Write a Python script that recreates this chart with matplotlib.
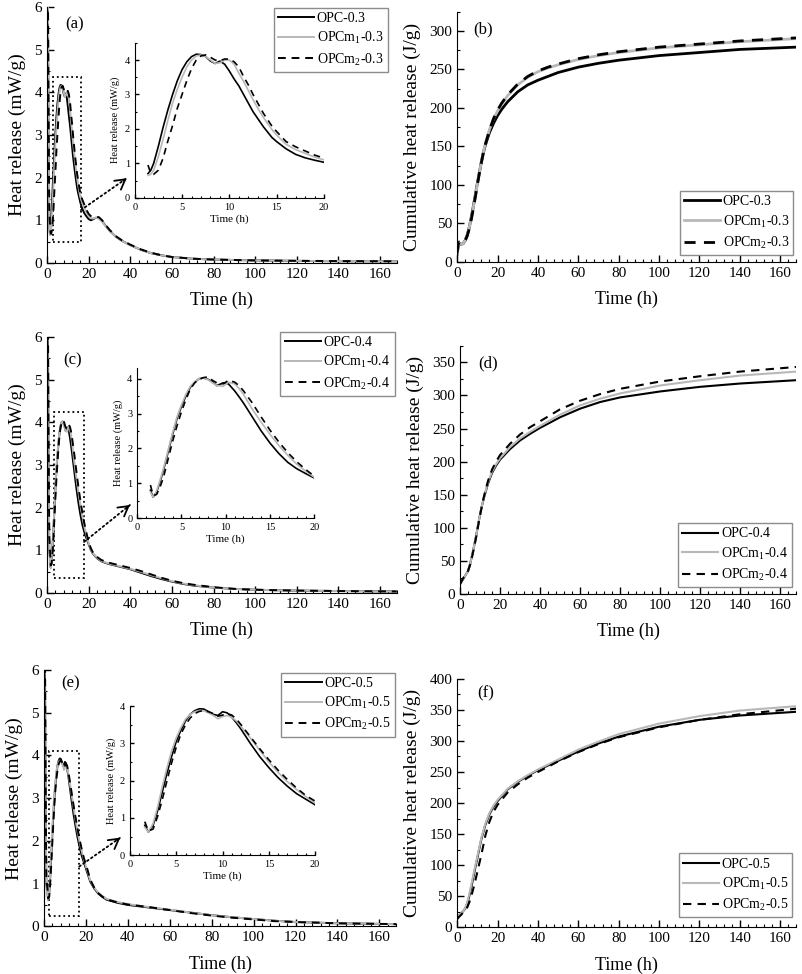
import matplotlib
matplotlib.use('Agg')
import matplotlib.pyplot as plt
from matplotlib.patches import Rectangle
from matplotlib.ticker import MultipleLocator, AutoMinorLocator

plt.rcParams['font.family'] = ['Liberation Serif', 'DejaVu Serif']
plt.rcParams['mathtext.fontset'] = 'custom'
plt.rcParams['mathtext.rm'] = 'Liberation Serif'
plt.rcParams['xtick.direction'] = 'in'
plt.rcParams['ytick.direction'] = 'in'

GRAY = '#b8b8b8'

# ---- heat flow, w/c 0.3 -------------------------------------------------
spike_t = [0.0, 0.3, 0.7, 1.1]
a_spike_opc = [0.3, 8.0, 3.0, 0.9]
a_spike_m1 = [0.2, 8.0, 3.5, 0.9]
a_spike_m2 = [0.0, 8.0, 4.0, 1.2]

a_t = [1.4, 1.7, 2.0, 2.5, 3.0, 3.5, 4.0, 4.5, 5.0, 5.5, 6.0, 6.5, 7.0, 7.5, 8.0, 8.5, 9.0,
       9.5, 10.0, 10.5, 11.0, 11.5, 12.0, 12.5, 13.0, 13.6, 14.5, 15.0, 16.0, 17.0, 18.0, 19.0, 20.0]
a_opc = [0.7, 0.8, 1.0, 1.5, 2.05, 2.55, 3.0, 3.4, 3.72, 3.95, 4.1, 4.17, 4.16, 4.1, 3.97, 3.9, 3.97,
         3.88, 3.68, 3.45, 3.25, 3.0, 2.75, 2.5, 2.3, 2.06, 1.75, 1.63, 1.42, 1.26, 1.16, 1.09, 1.03]
a_m1 = [0.65, 0.68, 0.8, 1.2, 1.7, 2.25, 2.75, 3.15, 3.5, 3.8, 4.0, 4.12, 4.15, 4.1, 4.0, 3.9, 3.92,
        4.0, 4.0, 3.88, 3.62, 3.38, 3.12, 2.85, 2.6, 2.33, 1.98, 1.82, 1.55, 1.4, 1.29, 1.18, 1.1]
a_m2 = [0.95, 0.7, 0.68, 0.8, 1.15, 1.65, 2.1, 2.6, 3.0, 3.4, 3.75, 4.0, 4.12, 4.15, 4.08, 4.0, 3.98,
        4.03, 4.03, 3.95, 3.8, 3.52, 3.28, 3.0, 2.75, 2.45, 2.08, 1.92, 1.63, 1.48, 1.36, 1.24, 1.15]

a_tail_t = [21, 22, 23.5, 25, 26.5, 28, 30, 33, 36, 40, 45, 50, 55, 60, 70, 80, 100, 120, 140, 168]
a_tail_opc = [1.0, 1.02, 1.06, 1.05, 0.98, 0.88, 0.76, 0.62, 0.52, 0.42, 0.31, 0.23, 0.18, 0.14, 0.1, 0.08, 0.06, 0.05, 0.04, 0.04]
a_tail_m1 = [1.05, 1.04, 1.06, 1.04, 0.97, 0.87, 0.76, 0.62, 0.52, 0.42, 0.31, 0.23, 0.18, 0.14, 0.1, 0.08, 0.06, 0.05, 0.045, 0.04]
a_tail_m2 = [1.1, 1.08, 1.09, 1.07, 1.0, 0.9, 0.78, 0.63, 0.53, 0.43, 0.32, 0.24, 0.18, 0.14, 0.1, 0.08, 0.06, 0.05, 0.045, 0.04]

# ---- heat flow, w/c 0.4 -------------------------------------------------
c_spike_opc = [0.3, 8.0, 3.0, 1.0]
c_spike_m1 = [0.2, 8.0, 3.5, 1.0]
c_spike_m2 = [0.0, 8.0, 4.0, 1.3]

c_t = [1.5, 1.8, 2.2, 2.6, 3.0, 3.5, 4.0, 4.5, 5.0, 5.5, 6.0, 6.5, 7.0, 7.5, 8.0, 8.5, 9.0,
       9.7, 10.3, 11.0, 11.5, 12.0, 13.0, 14.0, 15.0, 16.0, 17.0, 18.0, 19.0, 20.0]
c_opc = [0.8, 0.6, 0.75, 1.05, 1.4, 1.9, 2.4, 2.85, 3.2, 3.5, 3.75, 3.9, 4.0, 4.02, 3.98, 3.9, 3.8,
         3.88, 3.85, 3.65, 3.48, 3.3, 2.9, 2.5, 2.15, 1.85, 1.6, 1.42, 1.28, 1.15]
c_m1 = [0.75, 0.6, 0.78, 1.1, 1.45, 1.95, 2.45, 2.9, 3.25, 3.55, 3.78, 3.92, 4.0, 4.02, 3.97, 3.88, 3.8,
        3.78, 3.9, 3.85, 3.72, 3.55, 3.12, 2.75, 2.4, 2.08, 1.8, 1.55, 1.35, 1.17]
c_m2 = [0.95, 0.65, 0.68, 0.9, 1.2, 1.7, 2.2, 2.65, 3.05, 3.4, 3.7, 3.88, 3.98, 4.03, 4.05, 3.95, 3.88,
        3.85, 3.95, 3.9, 3.8, 3.65, 3.3, 2.9, 2.52, 2.18, 1.88, 1.62, 1.4, 1.2]

c_tail_t = [21, 22, 24, 26, 28, 30, 35, 40, 45, 50, 55, 60, 65, 70, 80, 90, 100, 120, 140, 168]
c_tail_opc = [1.02, 0.93, 0.82, 0.75, 0.71, 0.68, 0.62, 0.56, 0.48, 0.4, 0.33, 0.27, 0.22, 0.18, 0.13, 0.1, 0.08, 0.06, 0.05, 0.04]
c_tail_m1 = [1.03, 0.94, 0.83, 0.76, 0.72, 0.69, 0.63, 0.57, 0.5, 0.42, 0.35, 0.28, 0.23, 0.19, 0.13, 0.1, 0.08, 0.06, 0.05, 0.04]
c_tail_m2 = [1.06, 0.96, 0.85, 0.78, 0.74, 0.71, 0.65, 0.59, 0.52, 0.44, 0.36, 0.29, 0.24, 0.2, 0.14, 0.1, 0.08, 0.06, 0.05, 0.04]

# ---- heat flow, w/c 0.5 -------------------------------------------------
e_spike_opc = [0.3, 8.0, 3.0, 1.0]
e_spike_m1 = [0.2, 8.0, 3.5, 0.9]
e_spike_m2 = [0.0, 8.0, 4.0, 1.1]

e_t = [1.6, 2.0, 2.5, 3.0, 3.5, 4.0, 4.5, 5.0, 5.5, 6.0, 6.5, 7.0, 7.5, 8.0, 8.5, 9.0, 9.5,
       10.0, 10.5, 11.0, 11.5, 12.0, 13.0, 14.0, 15.0, 16.0, 17.0, 18.0, 19.0, 20.0]
e_opc = [0.8, 0.62, 0.8, 1.2, 1.7, 2.2, 2.65, 3.05, 3.35, 3.6, 3.78, 3.88, 3.93, 3.92, 3.85, 3.78, 3.75,
         3.85, 3.82, 3.7, 3.55, 3.38, 3.0, 2.65, 2.35, 2.08, 1.85, 1.65, 1.5, 1.35]
e_m1 = [0.75, 0.62, 0.85, 1.3, 1.85, 2.35, 2.8, 3.15, 3.42, 3.65, 3.78, 3.85, 3.88, 3.87, 3.82, 3.75, 3.66,
        3.72, 3.75, 3.7, 3.6, 3.45, 3.15, 2.82, 2.5, 2.22, 1.97, 1.76, 1.57, 1.4]
e_m2 = [0.9, 0.65, 0.7, 1.05, 1.5, 2.0, 2.48, 2.9, 3.25, 3.5, 3.68, 3.8, 3.86, 3.88, 3.85, 3.8, 3.73,
        3.76, 3.8, 3.76, 3.65, 3.5, 3.18, 2.86, 2.56, 2.28, 2.03, 1.8, 1.6, 1.45]

e_tail_t = [21, 22, 24, 26, 28, 30, 35, 40, 50, 60, 70, 80, 90, 100, 110, 120, 140, 168]
e_tail_opc = [1.2, 1.05, 0.88, 0.76, 0.68, 0.62, 0.55, 0.5, 0.44, 0.38, 0.32, 0.26, 0.21, 0.17, 0.13, 0.1, 0.07, 0.05]
e_tail_m1 = [1.25, 1.08, 0.9, 0.78, 0.7, 0.64, 0.57, 0.52, 0.45, 0.39, 0.32, 0.26, 0.21, 0.17, 0.13, 0.1, 0.07, 0.05]
e_tail_m2 = [1.28, 1.1, 0.9, 0.77, 0.69, 0.63, 0.56, 0.51, 0.45, 0.38, 0.31, 0.25, 0.2, 0.16, 0.12, 0.1, 0.07, 0.05]

# ---- cumulative heat ----------------------------------------------------
b_t = [0, 0.5, 1, 2, 3, 4, 5, 6, 7, 8, 9, 10, 11, 12, 13, 14, 16, 18, 20, 22, 25, 30, 35, 40,
       45, 50, 60, 70, 80, 100, 120, 140, 168]
b_opc = [10, 20, 24, 23, 24, 28, 35, 45, 58, 72, 87, 102, 116, 130, 142, 152, 168, 180, 190, 198,
         208, 221, 230, 236, 241, 246, 253, 258, 262, 268, 272, 276, 279]
b_m1 = [10, 20, 24, 23, 24, 28, 35, 45, 57, 71, 86, 101, 116, 130, 143, 154, 172, 186, 196, 205,
        216, 230, 240, 247, 252, 256, 263, 268, 272, 278, 282, 286, 290]
b_m2 = [12, 22, 26, 24, 25, 28, 34, 43, 55, 69, 84, 100, 115, 129, 142, 153, 171, 186, 197, 206,
        217, 231, 241, 248, 253, 257, 264, 269, 273, 279, 283, 287, 291]

d_t = [0, 1, 2, 3, 4, 5, 6, 7, 8, 9, 10, 11, 12, 14, 16, 18, 20, 25, 30, 35, 40, 50, 60, 70, 80,
       100, 120, 140, 168]
d_opc = [15, 20, 25, 30, 35, 45, 58, 72, 87, 104, 120, 134, 146, 167, 183, 194, 203, 219, 232, 242,
         251, 267, 280, 290, 297, 306, 313, 318, 323]
d_m1 = [15, 20, 25, 30, 35, 45, 58, 72, 87, 104, 120, 134, 147, 169, 185, 196, 205, 222, 235, 245,
        254, 271, 285, 295, 303, 315, 323, 330, 336]
d_m2 = [15, 21, 26, 30, 35, 44, 56, 70, 85, 102, 119, 134, 148, 171, 188, 200, 210, 227, 241, 252,
        261, 279, 292, 302, 310, 321, 329, 336, 343]

f_t = [0, 1, 2, 3, 4, 5, 6, 7, 8, 9, 10, 11, 12, 14, 16, 18, 20, 25, 30, 35, 40, 50, 60, 70, 80,
       100, 120, 140, 168]
f_opc = [15, 19, 22, 26, 30, 38, 50, 64, 80, 96, 111, 127, 142, 165, 182, 194, 203, 222, 234, 244,
         253, 268, 283, 296, 307, 323, 334, 341, 347]
f_m1 = [15, 19, 22, 26, 31, 40, 53, 68, 84, 99, 114, 129, 144, 167, 184, 196, 205, 223, 235, 245,
        254, 270, 286, 299, 311, 328, 340, 349, 356]
f_m2 = [13, 17, 20, 24, 27, 32, 40, 50, 62, 75, 89, 103, 117, 148, 170, 186, 197, 217, 230, 241,
        250, 267, 282, 295, 306, 322, 334, 343, 352]

styles = [dict(color='black', ls='-'),
          dict(color=GRAY, ls='-'),
          dict(color='black', ls=(0, (4, 3)))]


def names(w):
    return ['OPC-' + w, r'OPCm$_\mathrm{1}$-' + w, r'OPCm$_\mathrm{2}$-' + w]


def clean(ax, fs):
    ax.spines['top'].set_visible(False)
    ax.spines['right'].set_visible(False)
    ax.tick_params(which='major', length=5, width=1, labelsize=fs)
    ax.tick_params(which='minor', length=2.5, width=0.8)


def legend(ax, w, loc, anchor):
    ax.legend(names(w), loc=loc, bbox_to_anchor=anchor, fontsize=10, frameon=True,
              fancybox=False, edgecolor='#707070', handlelength=2.6, handletextpad=0.2,
              borderpad=0.3, labelspacing=0.35, borderaxespad=0)


fig = plt.figure(figsize=(8.02, 9.74), dpi=100)

# heat-flow panels with zoom insets
heat = [
    ('0.3', '(a)', [0.0586, 0.730, 0.436, 0.263], [0.168, 0.797, 0.236, 0.159], 4.5,
     a_t, [a_opc, a_m1, a_m2], [a_spike_opc, a_spike_m1, a_spike_m2],
     a_tail_t, [a_tail_opc, a_tail_m1, a_tail_m2],
     (3.0, 0.5, 16.2, 4.35), (16.3, 1.24), (0.158, 0.817), (0.974, 0.996), (0.051, 0.93)),
    ('0.4', '(c)', [0.0586, 0.391, 0.436, 0.263], [0.171, 0.468, 0.221, 0.154], 4.3,
     c_t, [c_opc, c_m1, c_m2], [c_spike_opc, c_spike_m1, c_spike_m2],
     c_tail_t, [c_tail_opc, c_tail_m1, c_tail_m2],
     (3.4, 0.35, 17.8, 4.25), (17.8, 1.2), (0.162, 0.4815), (0.994, 1.02), (0.046, 0.91)),
    ('0.5', '(e)', [0.0549, 0.049, 0.439, 0.263], [0.162, 0.122, 0.231, 0.153], 4.0,
     e_t, [e_opc, e_m1, e_m2], [e_spike_opc, e_spike_m1, e_spike_m2],
     e_tail_t, [e_tail_opc, e_tail_m1, e_tail_m2],
     (2.2, 0.25, 16.8, 4.1), (16.8, 1.4), (0.150, 0.140), (0.997, 0.99), (0.05, 0.95)),
]

for (w, tag, pos, ipos, itop, t, mids, spikes, tail_t, tails,
     box, a0, a1, lanchor, tagpos) in heat:
    ax = fig.add_axes(pos)
    for st, sp, md, tl in zip(styles, spikes, mids, tails):
        ax.plot(spike_t + t + tail_t, sp + md + tl, lw=1.4, **st)
    ax.set_xlim(0, 168)
    ax.set_ylim(0, 6)
    ax.xaxis.set_major_locator(MultipleLocator(20))
    ax.xaxis.set_minor_locator(AutoMinorLocator(5))
    ax.yaxis.set_minor_locator(AutoMinorLocator(2))
    clean(ax, 11)
    ax.set_xlabel('Time (h)', fontsize=13, labelpad=8)
    ax.set_ylabel('Heat release (mW/g)', fontsize=14, labelpad=6)
    ax.text(tagpos[0], tagpos[1], tag, transform=ax.transAxes, fontsize=12, va='center')
    legend(ax, w, 'upper right', lanchor)

    # dotted zoom box, dotted arrow shaft and a solid open head
    ax.add_patch(Rectangle((box[0], box[1]), box[2] - box[0], box[3] - box[1],
                           fill=False, ls=':', lw=1.3, ec='black'))
    ax.annotate('', xy=a1, xycoords='figure fraction', xytext=a0, textcoords='data',
                arrowprops=dict(arrowstyle='-', ls=':', lw=1.3, color='black',
                                shrinkA=0, shrinkB=0))
    ax.annotate('', xy=a1, xycoords='figure fraction',
                xytext=(a1[0] - 0.004, a1[1] - 0.0025), textcoords='figure fraction',
                arrowprops=dict(arrowstyle='->,head_length=0.7,head_width=0.4', lw=1.3,
                                color='black', shrinkA=0, shrinkB=0))

    ins = fig.add_axes(ipos)
    for st, md in zip(styles, mids):
        ins.plot(t, md, lw=1.2, **st)
    ins.set_xlim(0, 20)
    ins.set_ylim(0, itop)
    ins.xaxis.set_major_locator(MultipleLocator(5))
    ins.yaxis.set_major_locator(MultipleLocator(1))
    ins.xaxis.set_minor_locator(AutoMinorLocator(5))
    ins.yaxis.set_minor_locator(AutoMinorLocator(2))
    clean(ins, 7.5)
    ins.tick_params(which='major', length=3)
    ins.tick_params(which='minor', length=1.5)
    ins.set_xlabel('Time (h)', fontsize=8, labelpad=2)
    ins.set_ylabel('Heat release (mW/g)', fontsize=7.5, labelpad=3)
    ins.patch.set_alpha(0)

# cumulative panels
cum = [
    ('0.3', '(b)', [0.570, 0.731, 0.423, 0.257], 325, b_t, [b_opc, b_m1, b_m2], 2.0, (0.991, 0.028), (0.047, 0.93)),
    ('0.4', '(d)', [0.5736, 0.390, 0.419, 0.255], 375, d_t, [d_opc, d_m1, d_m2], 1.5, (0.988, 0.028), (0.054, 0.93)),
    ('0.5', '(f)', [0.570, 0.048, 0.423, 0.255], 400, f_t, [f_opc, f_m1, f_m2], 1.5, (0.988, 0.04), (0.06, 0.94)),
]

for w, tag, pos, top, t, series, lw, lanchor, tagpos in cum:
    ax = fig.add_axes(pos)
    for st, s in zip(styles, series):
        ax.plot(t, s, lw=lw, **st)
    ax.set_xlim(0, 168)
    ax.set_ylim(0, top)
    ax.xaxis.set_major_locator(MultipleLocator(20))
    ax.yaxis.set_major_locator(MultipleLocator(50))
    ax.xaxis.set_minor_locator(AutoMinorLocator(5))
    ax.yaxis.set_minor_locator(AutoMinorLocator(2))
    clean(ax, 11)
    ax.set_xlabel('Time (h)', fontsize=13, labelpad=8)
    ax.set_ylabel('Cumulative heat release (J/g)', fontsize=14, labelpad=6)
    ax.text(tagpos[0], tagpos[1], tag, transform=ax.transAxes, fontsize=12, va='center')
    legend(ax, w, 'lower right', lanchor)

fig.savefig('out.png', dpi=100)
